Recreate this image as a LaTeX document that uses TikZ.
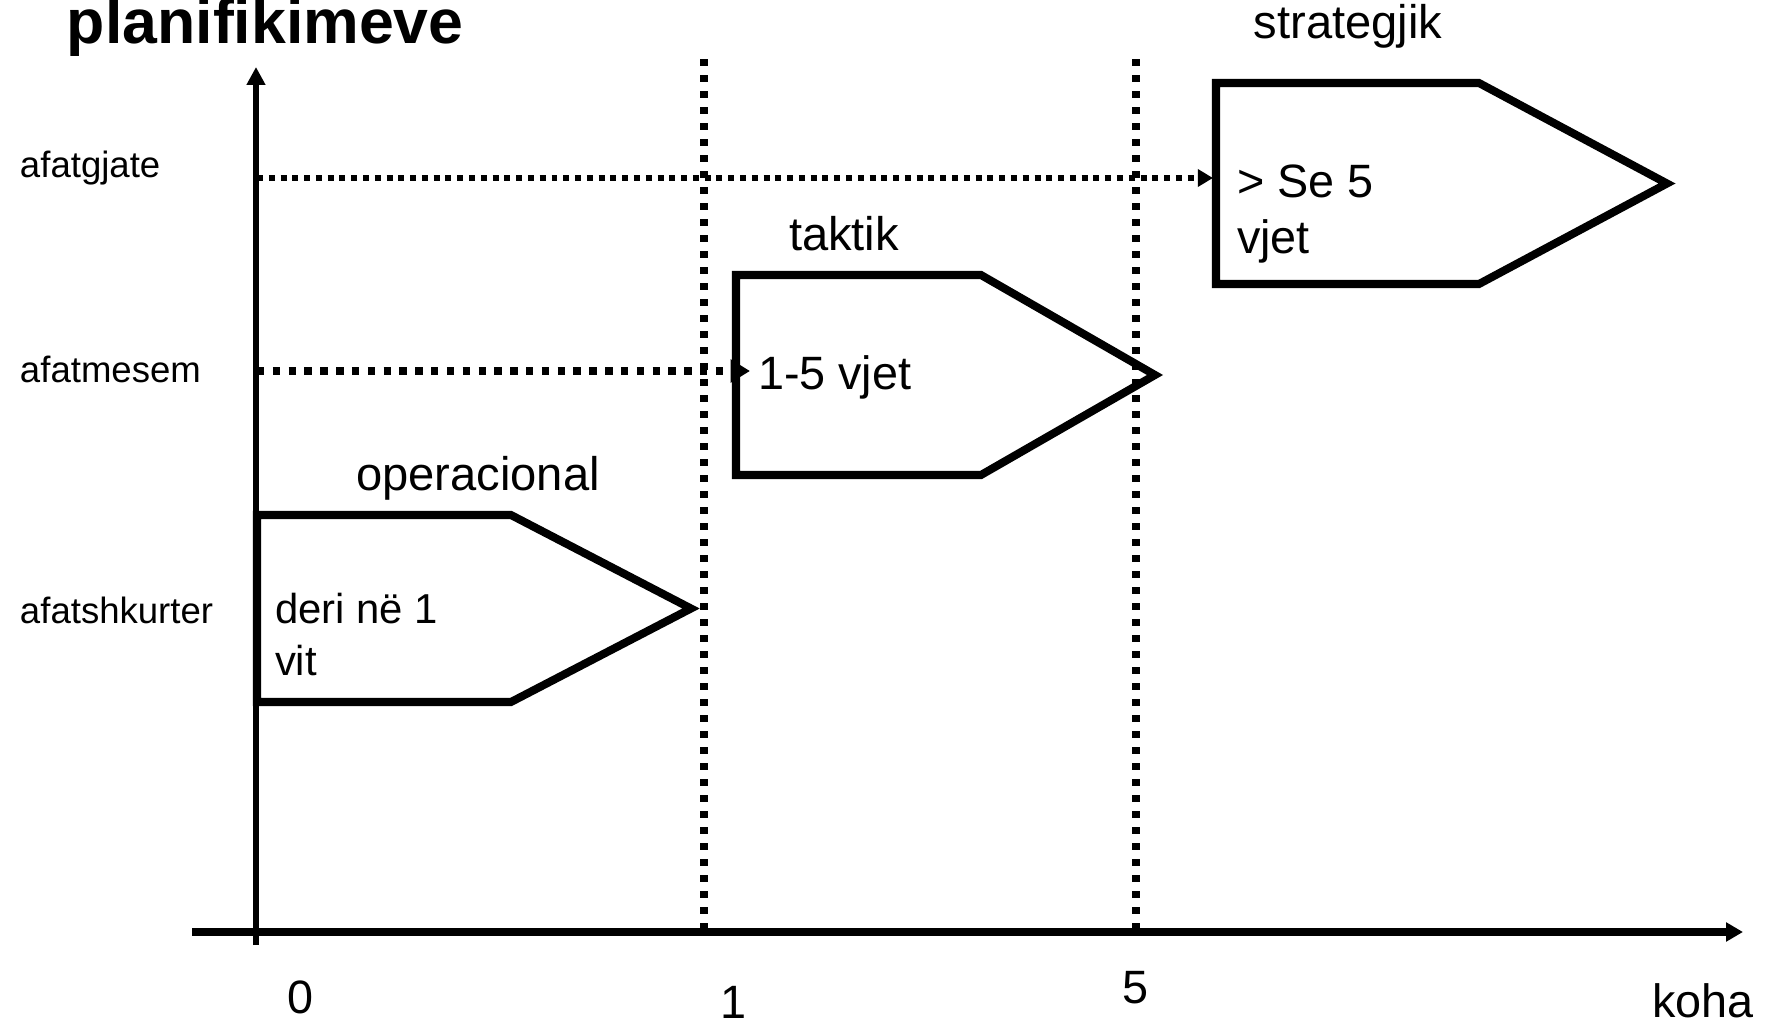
\documentclass[tikz,border=0pt]{standalone}
\usepackage{fontspec}
\setmainfont{Liberation Sans}
\usetikzlibrary{arrows.meta}
\begin{document}
\begin{tikzpicture}[x=0.01cm,y=-0.01cm,
  every node/.style={inner sep=0pt, outer sep=0pt},
  frame/.style={line width=2.28pt, line join=miter},
  guide/.style={line width=2.13pt, line cap=butt, dash pattern=on 1.9pt off 2.65pt},
  yaxis/.style={line width=1.7pt, -{Triangle[length=5.1pt,width=5.1pt]}},
  xaxis/.style={line width=2.2pt, -{Triangle[length=4.8pt,width=5.2pt]}},
  longarrow/.style={line width=1.7pt, line cap=butt, dash pattern=on 1.7pt off 1.65pt,
    -{Triangle[length=4.3pt,width=4.8pt]}},
  midarrow/.style={line width=2pt, line cap=butt, dash pattern=on 2.1pt off 2.4pt,
    -{Triangle[length=5.5pt,width=6.3pt]}},
  axlabel/.style={anchor=base west, font=\fontsize{10.4}{12.5}\selectfont},
  phase/.style={anchor=base, font=\fontsize{13.4}{16}\selectfont},
  inner/.style={anchor=base west, align=left, font=\fontsize{13.3}{16}\selectfont},
  small inner/.style={anchor=base west, align=left, font=\fontsize{11.9}{14.6}\selectfont},
  tick/.style={anchor=center, font=\fontsize{13.3}{16}\selectfont}
]
\useasboundingbox (0,0) rectangle (1768,1024);
\clip (0,0) rectangle (1768,1024);

% year boundaries
\coordinate (g1top) at (704,59);
\coordinate (g1bot) at (704,931);
\coordinate (g5top) at (1136,59);
\coordinate (g5bot) at (1136,931);
\draw[guide] (g1top) -- (g1bot);
\draw[guide] (g5top) -- (g5bot);

% axes
\coordinate (ybot) at (256,945);
\coordinate (ytop) at (256,67);
\coordinate (xleft) at (192,932);
\coordinate (xright) at (1743,932);
\draw[yaxis] (ybot) -- (ytop);
\draw[xaxis] (xleft) -- (xright);

% planning horizons
\draw[frame] (1216,83) -- (1479,83) -- (1667,183.5) -- (1479,284) -- (1216,284) -- cycle;
\draw[frame] (736,275) -- (981,275) -- (1155,375) -- (981,475) -- (736,475) -- cycle;
\draw[frame] (257,515) -- (511,515) -- (691,608.5) -- (511,702) -- (257,702) -- cycle;

% horizon levels on the vertical axis
\coordinate (lvlLong) at (257,178);
\coordinate (lvlMid) at (257,371);
\coordinate (stratIn) at (1213,178);
\coordinate (taktIn) at (750,371);
\draw[longarrow] (lvlLong) -- (stratIn);
\draw[midarrow] (lvlMid) -- (taktIn);

% title
\node[anchor=base west, font=\bfseries\fontsize{17.8}{21}\selectfont] (title) at (67,44)
  {planifikimeve};

% axis labels
\node[axlabel] (afatgjate) at (20,177) {afatgjate};
\node[axlabel] (afatmesem) at (20,383) {afatmesem};
\node[axlabel] (afatshkurter) at (20,623) {afatshkurter};

% phase names
\node[phase] (strategjik) at (1348,38) {strategjik};
\node[phase] (taktik) at (844,251) {taktik};
\node[phase] (operacional) at (478,490) {operacional};

% durations
\node[inner] (seFive) at (1237,198) {> Se 5};
\node[inner] (seFiveB) at (1237,254) {vjet};
\node[inner] (oneFive) at (758,389) {1-5 vjet};
\node[small inner] (deri) at (275,623) {deri në 1};
\node[small inner] (deriB) at (275,675) {vit};

% time axis
\node[tick] (t0) at (301,997) {0};
\node[tick] (t1) at (734,1002) {1};
\node[tick] (t5) at (1136,988) {5};
\node[tick] (koha) at (1703,1001) {koha};
\end{tikzpicture}
\end{document}
